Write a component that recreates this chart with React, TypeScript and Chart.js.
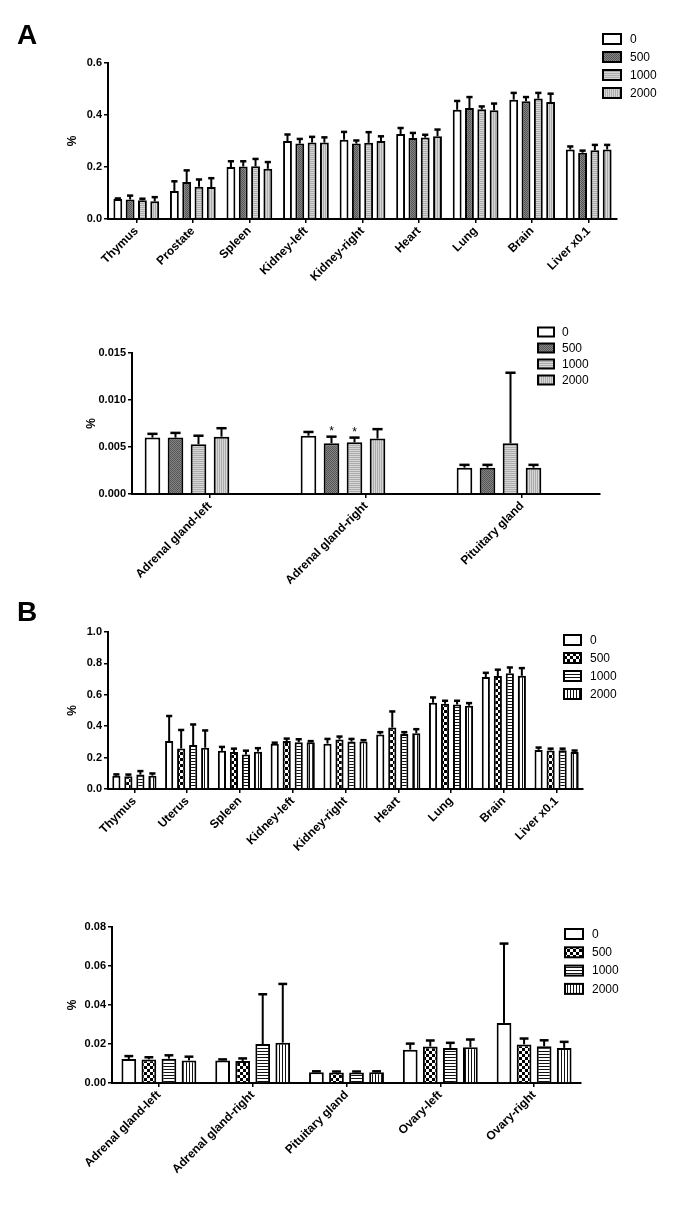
import React, { useEffect, useRef } from "react";
import { Chart, registerables } from "chart.js";

Chart.register(...registerables);

const FONT = '"Liberation Sans", Arial, Helvetica, sans-serif';

// ---------- shared ----------
const seriesLabels = ["0", "500", "1000", "2000"];

// ---------- Panel A (top) ----------
const catsA1 = ["Thymus", "Prostate", "Spleen", "Kidney-left", "Kidney-right", "Heart", "Lung", "Brain", "Liver x0.1"];
const a1Mean0 = [0.077, 0.108, 0.200, 0.300, 0.305, 0.327, 0.420, 0.459, 0.267];
const a1Err0 = [0.002, 0.037, 0.022, 0.025, 0.030, 0.023, 0.034, 0.026, 0.012];
const a1Mean500 = [0.075, 0.142, 0.202, 0.290, 0.290, 0.312, 0.427, 0.453, 0.255];
const a1Err500 = [0.015, 0.045, 0.020, 0.018, 0.012, 0.019, 0.042, 0.016, 0.008];
const a1Mean1000 = [0.072, 0.124, 0.203, 0.294, 0.293, 0.313, 0.422, 0.463, 0.264];
const a1Err1000 = [0.006, 0.028, 0.028, 0.022, 0.041, 0.011, 0.011, 0.022, 0.021];
const a1Mean2000 = [0.068, 0.123, 0.193, 0.294, 0.300, 0.318, 0.418, 0.450, 0.267];
const a1Err2000 = [0.016, 0.034, 0.026, 0.020, 0.018, 0.026, 0.026, 0.032, 0.018];
const yTicksA1 = ["0.0", "0.2", "0.4", "0.6"];

// ---------- Panel A (bottom) ----------
const catsA2 = ["Adrenal gland-left", "Adrenal gland-right", "Pituitary gland"];
const a2Mean0 = [0.0060, 0.0062, 0.0028];
const a2Err0 = [0.0004, 0.0004, 0.0003];
const a2Mean500 = [0.0060, 0.0054, 0.0028];
const a2Err500 = [0.0005, 0.0007, 0.0003];
const a2Mean1000 = [0.0053, 0.0055, 0.0054];
const a2Err1000 = [0.0009, 0.0005, 0.0075];
const a2Mean2000 = [0.0061, 0.0059, 0.0028];
const a2Err2000 = [0.0009, 0.0010, 0.0003];
const yTicksA2 = ["0.000", "0.005", "0.010", "0.015"];
const starsA2 = [
  { cat: 1, series: 1 },
  { cat: 1, series: 2 },
];

// ---------- Panel B (top) ----------
const catsB1 = ["Thymus", "Uterus", "Spleen", "Kidney-left", "Kidney-right", "Heart", "Lung", "Brain", "Liver x0.1"];
const b1Mean0 = [0.085, 0.305, 0.243, 0.289, 0.289, 0.347, 0.549, 0.713, 0.249];
const b1Err0 = [0.008, 0.160, 0.025, 0.006, 0.030, 0.015, 0.034, 0.027, 0.015];
const b1Mean500 = [0.082, 0.258, 0.236, 0.306, 0.315, 0.391, 0.543, 0.719, 0.245];
const b1Err500 = [0.010, 0.118, 0.021, 0.015, 0.019, 0.103, 0.019, 0.041, 0.012];
const b1Mean1000 = [0.092, 0.280, 0.219, 0.298, 0.302, 0.351, 0.538, 0.738, 0.247];
const b1Err1000 = [0.022, 0.131, 0.025, 0.019, 0.017, 0.011, 0.024, 0.036, 0.010];
const b1Mean2000 = [0.085, 0.263, 0.238, 0.298, 0.302, 0.355, 0.530, 0.721, 0.236];
const b1Err2000 = [0.014, 0.110, 0.022, 0.007, 0.009, 0.026, 0.017, 0.049, 0.009];
const yTicksB1 = ["0.0", "0.2", "0.4", "0.6", "0.8", "1.0"];

// ---------- Panel B (bottom) ----------
const catsB2 = ["Adrenal gland-left", "Adrenal gland-right", "Pituitary gland", "Ovary-left", "Ovary-right"];
const b2Mean0 = [0.0123, 0.0116, 0.0055, 0.0171, 0.0308];
const b2Err0 = [0.0015, 0.0005, 0.0005, 0.0031, 0.0407];
const b2Mean500 = [0.0121, 0.0113, 0.0054, 0.0187, 0.0198];
const b2Err500 = [0.0011, 0.0013, 0.0005, 0.0031, 0.0030];
const b2Mean1000 = [0.0125, 0.0200, 0.0054, 0.0180, 0.0188];
const b2Err1000 = [0.0017, 0.0255, 0.0005, 0.0026, 0.0031];
const b2Mean2000 = [0.0116, 0.0207, 0.0055, 0.0183, 0.0180];
const b2Err2000 = [0.0019, 0.0301, 0.0005, 0.0040, 0.0031];
const yTicksB2 = ["0.00", "0.02", "0.04", "0.06", "0.08"];

// ---------- fills ----------
function makePattern(kind: string): any {
  if (kind === "white") return "#ffffff";
  const c = document.createElement("canvas");
  const ctx = c.getContext("2d")!;
  if (kind === "aDark") {
    c.width = 2; c.height = 2;
    ctx.fillStyle = "#868686"; ctx.fillRect(0, 0, 2, 2);
    ctx.fillStyle = "#555555"; ctx.fillRect(0, 0, 1, 1); ctx.fillRect(1, 1, 1, 1);
  } else if (kind === "aHoriz") {
    c.width = 2; c.height = 2;
    ctx.fillStyle = "#d6d6d6"; ctx.fillRect(0, 0, 2, 2);
    ctx.fillStyle = "#acacac"; ctx.fillRect(0, 1, 2, 1);
  } else if (kind === "aVert") {
    c.width = 2; c.height = 2;
    ctx.fillStyle = "#d6d6d6"; ctx.fillRect(0, 0, 2, 2);
    ctx.fillStyle = "#acacac"; ctx.fillRect(1, 0, 1, 2);
  } else if (kind === "bCheck") {
    c.width = 6; c.height = 6;
    ctx.fillStyle = "#ffffff"; ctx.fillRect(0, 0, 6, 6);
    ctx.fillStyle = "#000000"; ctx.fillRect(0, 0, 3, 3); ctx.fillRect(3, 3, 3, 3);
  } else if (kind === "bHoriz") {
    c.width = 3; c.height = 3;
    ctx.fillStyle = "#ffffff"; ctx.fillRect(0, 0, 3, 3);
    ctx.fillStyle = "#111111"; ctx.fillRect(0, 0, 3, 1);
  } else if (kind === "bVert") {
    c.width = 3; c.height = 3;
    ctx.fillStyle = "#ffffff"; ctx.fillRect(0, 0, 3, 3);
    ctx.fillStyle = "#111111"; ctx.fillRect(0, 0, 1, 3);
  }
  return ctx.createPattern(c, "repeat");
}

// ---------- plugins ----------
const boxLegendPlugin = {
  id: "boxLegend",
  afterDraw(chart: any, _a: any, opts: any) {
    const { ctx } = chart;
    const ds = chart.data.datasets.filter((d: any) => d.label);
    ds.forEach((d: any, i: number) => {
      const y = opts.y + i * opts.dy;
      ctx.save();
      ctx.fillStyle = d.backgroundColor;
      ctx.fillRect(opts.x, y - opts.h / 2, opts.w, opts.h);
      ctx.lineWidth = 2;
      ctx.strokeStyle = "#000";
      ctx.strokeRect(opts.x, y - opts.h / 2, opts.w, opts.h);
      ctx.fillStyle = "#000";
      ctx.font = `12px ${FONT}`;
      ctx.textBaseline = "middle";
      ctx.textAlign = "left";
      ctx.fillText(d.label, opts.textX, y + 0.5);
      ctx.restore();
    });
  },
};

const errorBarPlugin = {
  id: "errorBars",
  afterDatasetsDraw(chart: any, _a: any, opts: any) {
    const { ctx } = chart;
    const ys = chart.scales.y;
    chart.data.datasets.forEach((ds: any, di: number) => {
      if (!ds.errors) return;
      const meta = chart.getDatasetMeta(di);
      meta.data.forEach((bar: any, i: number) => {
        const v = ds.data[i];
        const e = ds.errors[i];
        if (v == null || e == null) return;
        const yBar = ys.getPixelForValue(v);
        const yTop = ys.getPixelForValue(v + e);
        const half = (bar.width * opts.capRatio) / 2;
        ctx.save();
        ctx.strokeStyle = "#000";
        ctx.lineWidth = 2;
        ctx.beginPath();
        ctx.moveTo(bar.x, yBar);
        ctx.lineTo(bar.x, yTop);
        ctx.stroke();
        ctx.lineWidth = 2.5;
        ctx.beginPath();
        ctx.moveTo(bar.x - half, yTop);
        ctx.lineTo(bar.x + half, yTop);
        ctx.stroke();
        ctx.restore();
      });
    });
  },
};

const starPlugin = {
  id: "stars",
  afterDatasetsDraw(chart: any, _a: any, opts: any) {
    if (!opts.marks) return;
    const { ctx } = chart;
    const ys = chart.scales.y;
    opts.marks.forEach((m: any) => {
      const ds: any = chart.data.datasets[m.series];
      const bar: any = chart.getDatasetMeta(m.series).data[m.cat];
      const yTop = ys.getPixelForValue(ds.data[m.cat] + ds.errors[m.cat]);
      ctx.save();
      ctx.fillStyle = "#000";
      ctx.font = `12px ${FONT}`;
      ctx.textAlign = "center";
      ctx.textBaseline = "alphabetic";
      ctx.fillText("*", bar.x, yTop - 2);
      ctx.restore();
    });
  },
};

type Panel = {
  top: number;
  height: number;
  area: { left: number; right: number; top: number; bottom: number };
  categories: string[];
  means: number[][];
  errs: number[][];
  fills: string[];
  yMax: number;
  yStep: number;
  yTicks: string[];
  catPct: number;
  barPct: number;
  emptySlots: number;
  legend: { x: number; y: number; dy: number; w: number; h: number; textX: number };
  titleX: number;
  capRatio: number;
  stars?: { cat: number; series: number }[];
};

const W = 685;

function buildChart(canvas: HTMLCanvasElement, p: Panel) {
  const datasets: any[] = p.means.map((m, i) => ({
    label: seriesLabels[i],
    data: m,
    errors: p.errs[i],
    backgroundColor: makePattern(p.fills[i]),
    borderColor: "#000",
    borderWidth: 2,
    categoryPercentage: p.catPct,
    barPercentage: p.barPct,
  }));
  for (let k = 0; k < p.emptySlots; k++) {
    datasets.push({
      label: "",
      data: p.categories.map(() => null),
      backgroundColor: "rgba(0,0,0,0)",
      borderWidth: 0,
      categoryPercentage: p.catPct,
      barPercentage: p.barPct,
    });
  }
  const yFont = { family: FONT, size: 11, weight: "bold" as const };
  const xFont = { family: FONT, size: 12, weight: "bold" as const };
  return new Chart(canvas, {
    type: "bar",
    data: { labels: p.categories, datasets },
    options: {
      responsive: false,
      animation: false,
      devicePixelRatio: 1,
      layout: { padding: { left: 0, top: p.area.top - p.top, right: W - p.area.right, bottom: 0 } },
      plugins: {
        legend: { display: false },
        tooltip: { enabled: false },
        boxLegend: p.legend,
        errorBars: { capRatio: p.capRatio },
        stars: { marks: p.stars || null },
      } as any,
      scales: {
        x: {
          type: "category",
          offset: true,
          grid: {
            display: true,
            drawOnChartArea: false,
            offset: false,
            drawTicks: true,
            tickLength: 4,
            color: "#000",
            lineWidth: 1.5,
          },
          border: { display: true, color: "#000", width: 2 },
          ticks: {
            autoSkip: false,
            maxRotation: 45,
            minRotation: 45,
            color: "#000",
            font: xFont,
            padding: 1,
          },
          afterFit: (s: any) => {
            s.height = p.height - (p.area.bottom - p.top);
          },
        },
        y: {
          min: 0,
          max: p.yMax,
          ticks: {
            stepSize: p.yStep,
            color: "#000",
            font: yFont,
            padding: 2,
            callback: (_v: any, i: number) => p.yTicks[i],
          },
          grid: {
            display: true,
            drawOnChartArea: false,
            drawTicks: true,
            tickLength: 4,
            color: "#000",
            lineWidth: 1.5,
          },
          border: { display: true, color: "#000", width: 2 },
          title: {
            display: true,
            text: "%",
            color: "#000",
            font: { family: FONT, size: 12, weight: "bold" },
            padding: { top: p.titleX - 7.2, bottom: 0 },
          },
          afterFit: (s: any) => {
            s.width = p.area.left;
          },
        },
      } as any,
    },
    plugins: [boxLegendPlugin, errorBarPlugin, starPlugin] as any,
  });
}

const panels: Panel[] = [
  {
    top: 0,
    height: 310,
    area: { left: 108, right: 617, top: 63, bottom: 219 },
    categories: catsA1,
    means: [a1Mean0, a1Mean500, a1Mean1000, a1Mean2000],
    errs: [a1Err0, a1Err500, a1Err1000, a1Err2000],
    fills: ["white", "aDark", "aHoriz", "aVert"],
    yMax: 0.6,
    yStep: 0.2,
    yTicks: yTicksA1,
    catPct: 0.87,
    barPct: 0.72,
    emptySlots: 0,
    legend: { x: 603, y: 39, dy: 18, w: 18, h: 10, textX: 630 },
    titleX: 73,
    capRatio: 0.7,
  },
  {
    top: 300,
    height: 380,
    area: { left: 132, right: 600, top: 353, bottom: 494 },
    categories: catsA2,
    means: [a2Mean0, a2Mean500, a2Mean1000, a2Mean2000],
    errs: [a2Err0, a2Err500, a2Err1000, a2Err2000],
    fills: ["white", "aDark", "aHoriz", "aVert"],
    yMax: 0.015,
    yStep: 0.005,
    yTicks: yTicksA2,
    catPct: 0.885,
    barPct: 0.68,
    emptySlots: 2,
    legend: { x: 538, y: 32, dy: 16, w: 16, h: 9, textX: 562 },
    titleX: 92,
    capRatio: 0.65,
    stars: starsA2,
  },
  {
    top: 590,
    height: 360,
    area: { left: 108, right: 583, top: 632, bottom: 789 },
    categories: catsB1,
    means: [b1Mean0, b1Mean500, b1Mean1000, b1Mean2000],
    errs: [b1Err0, b1Err500, b1Err1000, b1Err2000],
    fills: ["white", "bCheck", "bHoriz", "bVert"],
    yMax: 1.0,
    yStep: 0.2,
    yTicks: yTicksB1,
    catPct: 0.91,
    barPct: 0.68,
    emptySlots: 0,
    legend: { x: 564, y: 50, dy: 18, w: 17, h: 10, textX: 590 },
    titleX: 73,
    capRatio: 0.75,
  },
  {
    top: 880,
    height: 325,
    area: { left: 112, right: 581, top: 927, bottom: 1083 },
    categories: catsB2,
    means: [b2Mean0, b2Mean500, b2Mean1000, b2Mean2000],
    errs: [b2Err0, b2Err500, b2Err1000, b2Err2000],
    fills: ["white", "bCheck", "bHoriz", "bVert"],
    yMax: 0.08,
    yStep: 0.02,
    yTicks: yTicksB2,
    catPct: 0.855,
    barPct: 0.735,
    emptySlots: 0,
    legend: { x: 565, y: 54, dy: 18.3, w: 18, h: 10, textX: 592 },
    titleX: 72.5,
    capRatio: 0.6,
  },
];

export default function App() {
  const refs = [
    useRef<HTMLCanvasElement>(null),
    useRef<HTMLCanvasElement>(null),
    useRef<HTMLCanvasElement>(null),
    useRef<HTMLCanvasElement>(null),
  ];
  useEffect(() => {
    document.body.style.margin = "0";
    const charts = panels.map((p, i) => buildChart(refs[i].current!, p));
    return () => charts.forEach((c) => c.destroy());
  }, []);

  const letterStyle: React.CSSProperties = {
    position: "absolute",
    left: 17,
    fontFamily: FONT,
    fontWeight: "bold",
    fontSize: 28,
    lineHeight: "28px",
    color: "#000",
  };

  return (
    <div style={{ position: "absolute", left: 0, top: 0, width: W, height: 1205, background: "#fff", overflow: "hidden" }}>
      {panels.map((p, i) => (
        <canvas
          key={i}
          ref={refs[i]}
          width={W}
          height={p.height}
          style={{ position: "absolute", left: 0, top: p.top, width: W, height: p.height }}
        />
      ))}
      <div style={{ ...letterStyle, top: 21 }}>A</div>
      <div style={{ ...letterStyle, top: 598 }}>B</div>
    </div>
  );
}
